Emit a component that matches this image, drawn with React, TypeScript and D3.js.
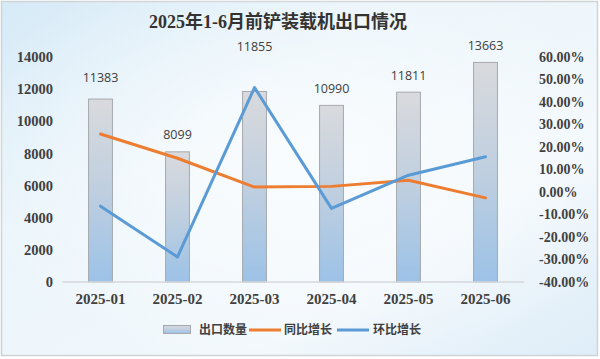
import React from "react";
import * as d3 from "d3";

const categories = ["2025-01", "2025-02", "2025-03", "2025-04", "2025-05", "2025-06"];
const exportQty = [11383, 8099, 11855, 10990, 11811, 13663];
const yoyGrowth = [25.8, 15.0, 2.2, 2.5, 5.2, -2.6];
const momGrowth = [-6.3, -28.85, 46.4, -7.3, 7.47, 15.68];
const leftTicks = [0, 2000, 4000, 6000, 8000, 10000, 12000, 14000];
const rightTicks = [-40, -30, -20, -10, 0, 10, 20, 30, 40, 50, 60];
const labelOffsets = [4, 0, 28, 0, 0, 0];

const W = 600;
const H = 359;
const serif = "'Liberation Serif', 'Times New Roman', 'DejaVu Serif', serif";
const titleFont = "'Liberation Serif', 'Times New Roman', 'Noto Sans CJK SC', serif";
const cjk = "'Noto Sans CJK SC', sans-serif";

export default function App() {
  const x = d3.scaleBand<string>().domain(categories).range([62, 524]).paddingInner(0.69).paddingOuter(0.345);
  const yL = d3.scaleLinear().domain([0, 14000]).range([282, 57]);
  const yR = d3.scaleLinear().domain([-40, 60]).range([282, 57]);
  const cx = (c: string) => (x(c) as number) + x.bandwidth() / 2;

  const lineYoy = d3.line<number>().x((_, i) => cx(categories[i])).y((d) => yR(d));
  const lineMom = d3.line<number>().x((_, i) => cx(categories[i])).y((d) => yR(d));

  return (
    <svg width={W} height={H} style={{ position: "absolute", left: 0, top: 0 }}>
      <defs>
        <linearGradient id="bg" x1="0" y1="0" x2="1" y2="1">
          <stop offset="0" stopColor="#d6eaf7" />
          <stop offset="0.35" stopColor="#ebf5fb" />
          <stop offset="0.7" stopColor="#f2f8fc" />
          <stop offset="1" stopColor="#deedf8" />
        </linearGradient>
        <radialGradient id="glow" cx="0.5" cy="0.45" r="0.6">
          <stop offset="0" stopColor="#ffffff" stopOpacity="0.7" />
          <stop offset="1" stopColor="#ffffff" stopOpacity="0" />
        </radialGradient>
        <linearGradient id="barg" x1="0" y1="0" x2="0" y2="1">
          <stop offset="0" stopColor="#d9dadd" />
          <stop offset="0.5" stopColor="#bfcfe0" />
          <stop offset="1" stopColor="#9cc2e7" />
        </linearGradient>
      </defs>
      <rect x={0} y={0} width={W} height={H} fill="#ffffff" />
      <rect x={1.5} y={1.5} width={596} height={354} fill="url(#bg)" stroke="#cfd3d6" strokeWidth={1.5} />
      <rect x={1.5} y={1.5} width={596} height={354} fill="url(#glow)" />

      <text x={278} y={28} textAnchor="middle" fontFamily={titleFont} fontWeight="bold" fontSize={18} fill="#333333">
        2025年1-6月前铲装载机出口情况
      </text>

      {leftTicks.map((t) => (
        <text key={"l" + t} x={53} y={yL(t)} dy="0.35em" textAnchor="end" fontFamily={serif} fontWeight="bold" fontSize={14.5} fill="#404040">
          {t}
        </text>
      ))}
      {rightTicks.map((t) => (
        <text key={"r" + t} x={539} y={yR(t)} dy="0.35em" textAnchor="start" fontFamily={serif} fontWeight="bold" fontSize={14} fill="#404040">
          {t.toFixed(2) + "%"}
        </text>
      ))}

      {categories.map((c, i) => (
        <rect key={"b" + c} x={x(c)} y={yL(exportQty[i])} width={x.bandwidth()} height={yL(0) - yL(exportQty[i])} fill="url(#barg)" stroke="#a5a9ad" strokeWidth={1} />
      ))}

      <line x1={62} x2={524} y1={yL(0)} y2={yL(0)} stroke="#d4d8dc" strokeWidth={1.5} />

      {categories.map((c, i) => (
        <text key={"v" + c} x={cx(c)} y={yL(exportQty[i]) - 17 - labelOffsets[i]} dy="0.35em" textAnchor="middle" fontFamily="'Open Sans', 'Noto Sans', sans-serif" fontSize={12.5} fill="#404040">
          {exportQty[i]}
        </text>
      ))}

      <path d={lineYoy(yoyGrowth) || ""} fill="none" stroke="#ed7d31" strokeWidth={3} strokeLinejoin="round" strokeLinecap="round" />
      <path d={lineMom(momGrowth) || ""} fill="none" stroke="#5b9bd5" strokeWidth={3} strokeLinejoin="round" strokeLinecap="round" />

      {categories.map((c) => (
        <text key={"c" + c} x={cx(c)} y={299} dy="0.35em" textAnchor="middle" fontFamily={serif} fontWeight="bold" fontSize={15} fill="#404040">
          {c}
        </text>
      ))}

      <g>
        <rect x={163.5} y={325.5} width={27} height={8} fill="url(#barg)" stroke="#a5a9ad" strokeWidth={1} />
        <text x={199} y={330} dy="0.35em" fontFamily={cjk} fontWeight="bold" fontSize={12} fill="#404040">出口数量</text>
        <line x1={249} x2={281} y1={330} y2={330} stroke="#ed7d31" strokeWidth={3} />
        <text x={284} y={330} dy="0.35em" fontFamily={cjk} fontWeight="bold" fontSize={12} fill="#404040">同比增长</text>
        <line x1={337} x2={369} y1={330} y2={330} stroke="#5b9bd5" strokeWidth={3} />
        <text x={373} y={330} dy="0.35em" fontFamily={cjk} fontWeight="bold" fontSize={12} fill="#404040">环比增长</text>
      </g>
    </svg>
  );
}
